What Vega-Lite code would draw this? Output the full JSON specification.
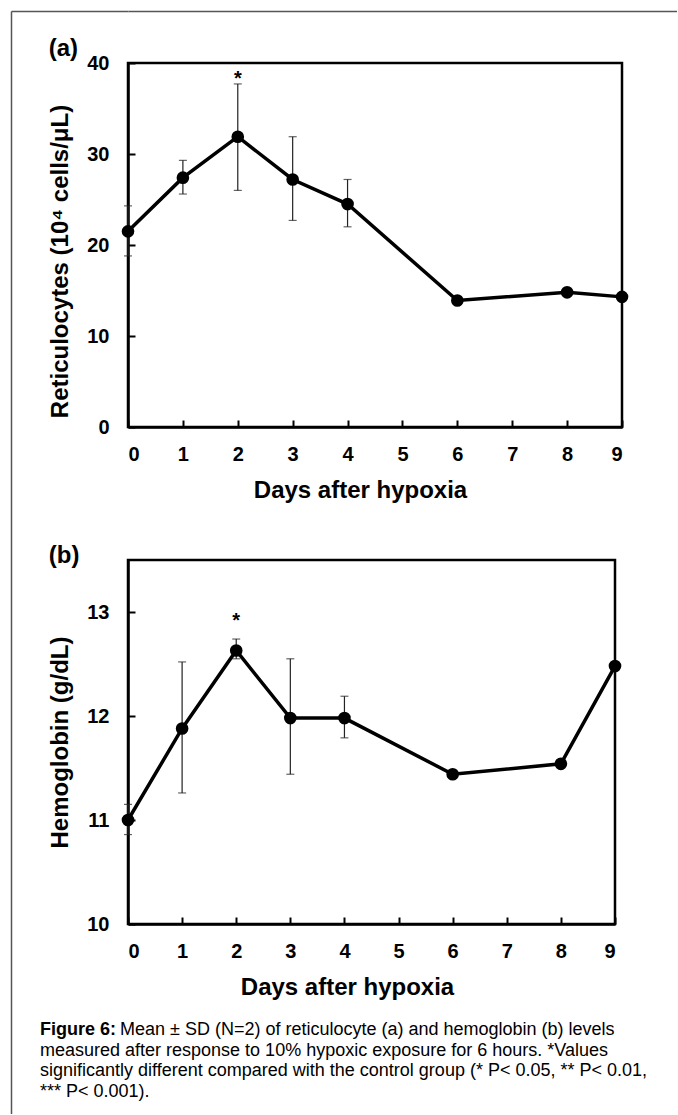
{
  "$schema": "https://vega.github.io/schema/vega-lite/v6.json",
  "padding": {"left": 11, "top": 11, "right": 0, "bottom": 0},
  "background": "white",
  "config": {
    "font": "Liberation Sans",
    "view": {"stroke": null},
    "axis": {
      "labelFont": "Liberation Sans", "labelFontWeight": "bold", "labelFontSize": 20, "labelColor": "black",
      "titleFont": "Liberation Sans", "titleFontWeight": "bold", "titleFontSize": 24, "titleColor": "black",
      "domainColor": "black", "domainWidth": 2.5, "tickColor": "black", "tickWidth": 2, "tickSize": -7,
      "grid": false
    },
    "title": {"font": "Liberation Sans", "fontSize": 24, "fontWeight": "bold", "anchor": "start", "frame": "bounds", "color": "black"}
  },
  "datasets": {
    "reti": [
      {"day": 0, "value": 21.5, "lo": 18.8, "hi": 24.3},
      {"day": 1, "value": 27.4, "lo": 25.6, "hi": 29.3},
      {"day": 2, "value": 31.9, "lo": 26.0, "hi": 37.7},
      {"day": 3, "value": 27.2, "lo": 22.7, "hi": 31.9},
      {"day": 4, "value": 24.5, "lo": 22.0, "hi": 27.2},
      {"day": 6, "value": 13.9},
      {"day": 8, "value": 14.8},
      {"day": 9, "value": 14.3}
    ],
    "hemo": [
      {"day": 0, "value": 11.0, "lo": 10.86, "hi": 11.15},
      {"day": 1, "value": 11.88, "lo": 11.26, "hi": 12.52},
      {"day": 2, "value": 12.63, "lo": 12.55, "hi": 12.74},
      {"day": 3, "value": 11.98, "lo": 11.44, "hi": 12.55},
      {"day": 4, "value": 11.98, "lo": 11.79, "hi": 12.19},
      {"day": 6, "value": 11.44},
      {"day": 8, "value": 11.54},
      {"day": 9, "value": 12.48}
    ],
    "sigA": [{"day": 2, "y": 38.5, "label": "*"}],
    "sigB": [{"day": 2, "y": 12.93, "label": "*"}],
    "capHead": [{"line": 1, "text": "Figure 6:"}],
    "capLines": [
      {"line": 1, "text": "Mean ± SD (N=2) of reticulocyte (a) and hemoglobin (b) levels"},
      {"line": 2, "text": "measured after response to 10% hypoxic exposure for 6 hours. *Values"},
      {"line": 3, "text": "significantly different compared with the control group (* P< 0.05, ** P< 0.01,"},
      {"line": 4, "text": "*** P< 0.001)."}
    ],
    "blank": [{"k": 0}]
  },
  "spacing": -200,
  "hconcat": [
    {
      "width": 117, "height": 1103,
      "data": {"name": "blank"},
      "mark": {"type": "point", "size": 0, "opacity": 0},
      "encoding": {
        "x": {"datum": 0, "type": "quantitative", "scale": {"domain": [0, 1]},
              "axis": {"orient": "top", "domainColor": "#555555", "domainWidth": 1.5, "ticks": false, "labels": false, "title": null}},
        "y": {"datum": 1, "type": "quantitative", "scale": {"domain": [0, 1]},
              "axis": {"orient": "left", "domainColor": "#555555", "domainWidth": 1.5, "ticks": false, "labels": false, "title": null}}
      }
    },
    {
      "spacing": 23,
      "vconcat": [
        {
          "width": 549, "height": 1,
          "data": {"name": "blank"},
          "mark": {"type": "point", "size": 0, "opacity": 0},
          "encoding": {
            "x": {"datum": 0, "type": "quantitative", "scale": {"domain": [0, 1]},
                  "axis": {"orient": "top", "domainColor": "#555555", "domainWidth": 1.5, "ticks": false, "labels": false, "title": null}},
            "y": {"datum": 1, "type": "quantitative", "scale": {"domain": [0, 1]}, "axis": null}
          }
        },
        {
          "spacing": 20,
          "vconcat": [
            {
              "spacing": 38,
              "vconcat": [
                {
                  "width": 494, "height": 364,
                  "title": {"text": "(a)", "offset": -8},
                  "view": {"stroke": "black", "strokeWidth": 2.5},
                  "data": {"name": "reti"},
                  "encoding": {
                    "x": {"field": "day", "type": "quantitative", "scale": {"domain": [0, 9], "nice": false, "zero": false},
                          "axis": {"values": [0,1,2,3,4,5,6,7,8,9], "format": "d", "title": "Days after hypoxia", "labelPadding": 24, "titlePadding": 14, "titleX": 232}}
                  },
                  "layer": [
                    {
                      "mark": {"type": "rule", "color": "#222222", "strokeWidth": 1.2},
                      "encoding": {
                        "y": {"field": "lo", "type": "quantitative", "scale": {"domain": [0, 40], "nice": false}, "title": "Reticulocytes (10⁴ cells/μL)",
                              "axis": {"values": [0,10,20,30,40], "format": "d", "labelPadding": 26, "titlePadding": 14, "titleY": 198}},
                        "y2": {"field": "hi"}
                      }
                    },
                    {
                      "mark": {"type": "tick", "orient": "horizontal", "size": 8, "thickness": 1.2, "color": "#222222"},
                      "encoding": {"y": {"field": "lo", "type": "quantitative", "scale": {"domain": [0, 40], "nice": false}, "title": "Reticulocytes (10⁴ cells/μL)"}}
                    },
                    {
                      "mark": {"type": "tick", "orient": "horizontal", "size": 8, "thickness": 1.2, "color": "#222222"},
                      "encoding": {"y": {"field": "hi", "type": "quantitative", "scale": {"domain": [0, 40], "nice": false}, "title": "Reticulocytes (10⁴ cells/μL)"}}
                    },
                    {
                      "mark": {"type": "line", "color": "black", "strokeWidth": 3.5},
                      "encoding": {"y": {"field": "value", "type": "quantitative", "scale": {"domain": [0, 40], "nice": false}, "title": "Reticulocytes (10⁴ cells/μL)"}}
                    },
                    {
                      "mark": {"type": "point", "shape": "circle", "filled": true, "size": 160, "color": "black", "opacity": 1},
                      "encoding": {"y": {"field": "value", "type": "quantitative", "scale": {"domain": [0, 40], "nice": false}, "title": "Reticulocytes (10⁴ cells/μL)"}}
                    },
                    {
                      "data": {"name": "sigA"},
                      "mark": {"type": "text", "fontSize": 20, "fontWeight": "bold", "baseline": "middle", "dy": 2, "color": "black"},
                      "encoding": {"y": {"field": "y", "type": "quantitative", "scale": {"domain": [0, 40], "nice": false}, "title": "Reticulocytes (10⁴ cells/μL)"},
                                   "text": {"field": "label"}}
                    }
                  ]
                },
                {
                  "width": 487, "height": 364,
                  "title": {"text": "(b)", "offset": -8},
                  "view": {"stroke": "black", "strokeWidth": 2.5},
                  "data": {"name": "hemo"},
                  "encoding": {
                    "x": {"field": "day", "type": "quantitative", "scale": {"domain": [0, 9], "nice": false, "zero": false},
                          "axis": {"values": [0,1,2,3,4,5,6,7,8,9], "format": "d", "title": "Days after hypoxia", "labelPadding": 24, "titlePadding": 14, "titleX": 219}}
                  },
                  "layer": [
                    {
                      "mark": {"type": "rule", "color": "#222222", "strokeWidth": 1.2},
                      "encoding": {
                        "y": {"field": "lo", "type": "quantitative", "scale": {"domain": [10, 13.5], "nice": false, "zero": false}, "title": "Hemoglobin (g/dL)",
                              "axis": {"values": [10,11,12,13], "format": "d", "labelPadding": 26, "titlePadding": 14}},
                        "y2": {"field": "hi"}
                      }
                    },
                    {
                      "mark": {"type": "tick", "orient": "horizontal", "size": 8, "thickness": 1.2, "color": "#222222"},
                      "encoding": {"y": {"field": "lo", "type": "quantitative", "scale": {"domain": [10, 13.5], "nice": false, "zero": false}, "title": "Hemoglobin (g/dL)"}}
                    },
                    {
                      "mark": {"type": "tick", "orient": "horizontal", "size": 8, "thickness": 1.2, "color": "#222222"},
                      "encoding": {"y": {"field": "hi", "type": "quantitative", "scale": {"domain": [10, 13.5], "nice": false, "zero": false}, "title": "Hemoglobin (g/dL)"}}
                    },
                    {
                      "mark": {"type": "line", "color": "black", "strokeWidth": 3.5},
                      "encoding": {"y": {"field": "value", "type": "quantitative", "scale": {"domain": [10, 13.5], "nice": false, "zero": false}, "title": "Hemoglobin (g/dL)"}}
                    },
                    {
                      "mark": {"type": "point", "shape": "circle", "filled": true, "size": 160, "color": "black", "opacity": 1},
                      "encoding": {"y": {"field": "value", "type": "quantitative", "scale": {"domain": [10, 13.5], "nice": false, "zero": false}, "title": "Hemoglobin (g/dL)"}}
                    },
                    {
                      "data": {"name": "sigB"},
                      "mark": {"type": "text", "fontSize": 20, "fontWeight": "bold", "baseline": "middle", "dy": 2, "color": "black"},
                      "encoding": {"y": {"field": "y", "type": "quantitative", "scale": {"domain": [10, 13.5], "nice": false, "zero": false}, "title": "Hemoglobin (g/dL)"},
                                   "text": {"field": "label"}}
                    }
                  ]
                }
              ]
            },
            {
              "width": 530, "height": 62,
              "layer": [
                {
                  "data": {"name": "capHead"},
                  "mark": {"type": "text", "font": "Liberation Sans", "fontSize": 18, "fontWeight": "bold", "align": "left", "baseline": "alphabetic", "dx": -88, "color": "black"},
                  "encoding": {"x": {"value": 0}, "y": {"field": "line", "type": "ordinal", "scale": {"type": "point", "padding": 0, "domain": [1,2,3,4]}, "axis": null}, "text": {"field": "text"}}
                },
                {
                  "data": {"name": "capLines"},
                  "transform": [{"filter": "datum.line == 1"}],
                  "mark": {"type": "text", "font": "Liberation Sans", "fontSize": 18, "align": "left", "baseline": "alphabetic", "dx": -8, "color": "black"},
                  "encoding": {"x": {"value": 0}, "y": {"field": "line", "type": "ordinal", "scale": {"type": "point", "padding": 0, "domain": [1,2,3,4]}, "axis": null}, "text": {"field": "text"}}
                },
                {
                  "data": {"name": "capLines"},
                  "transform": [{"filter": "datum.line > 1"}],
                  "mark": {"type": "text", "font": "Liberation Sans", "fontSize": 18, "align": "left", "baseline": "alphabetic", "dx": -88, "color": "black"},
                  "encoding": {"x": {"value": 0}, "y": {"field": "line", "type": "ordinal", "scale": {"type": "point", "padding": 0, "domain": [1,2,3,4]}, "axis": null}, "text": {"field": "text"}}
                }
              ]
            }
          ]
        }
      ]
    }
  ]
}
